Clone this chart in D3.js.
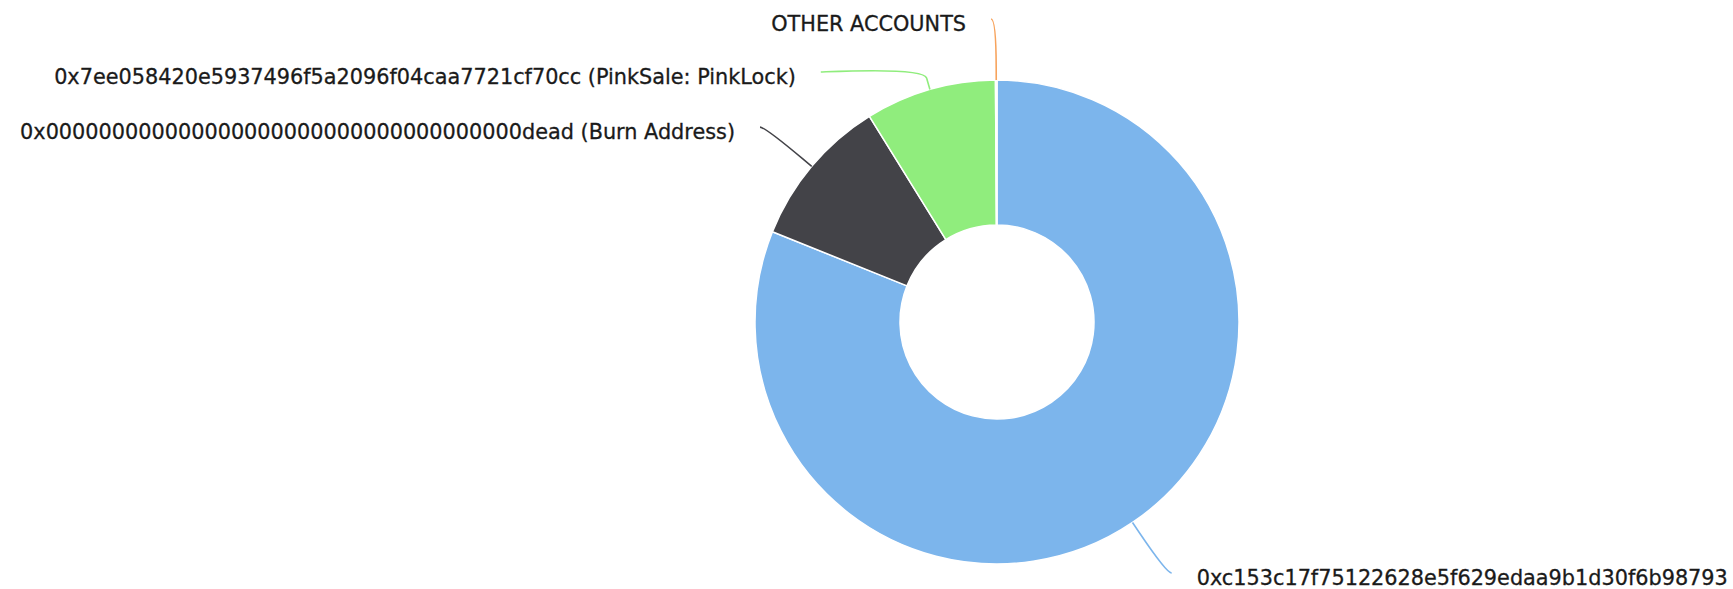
<!DOCTYPE html>
<html>
<head>
<meta charset="utf-8">
<script src="https://cdn.jsdelivr.net/npm/d3@7"></script>
<style>
  html, body { margin: 0; padding: 0; background: #ffffff; overflow: hidden; }
  svg { display: block; }
</style>
</head>
<body>
<svg id="chart" width="1733" height="589"></svg>
<script>
// ---- data ----
const holders = [
  "0xc153c17f75122628e5f629edaa9b1d30f6b98793",
  "0x000000000000000000000000000000000000dead (Burn Address)",
  "0x7ee058420e5937496f5a2096f04caa7721cf70cc (PinkSale: PinkLock)",
  "OTHER ACCOUNTS"
];
const shares = [81.08, 10.08, 8.74, 0.10];
const sliceColors = ["#7cb5ec", "#434348", "#90ed7d", "#f7a35c"];

// ---- layout ----
const W = 1733, H = 589;
const cx = 997, cy = 322;
const outerR = 242, innerR = 97;
const labelDist = 61, connOff = 12, pad = 5, gap = 25, minSpacing = 53;

const data = holders.map((name, i) => ({ name, value: shares[i], color: sliceColors[i] }));

const svg = d3.select("#chart");
const g = svg.append("g").attr("transform", `translate(${cx},${cy})`);

const pie = d3.pie().sort(null).value(d => d.value);
const arcs = pie(data);
const arc = d3.arc().innerRadius(innerR).outerRadius(outerR);

g.selectAll("path.slice")
  .data(arcs)
  .join("path")
  .attr("class", "slice")
  .attr("d", arc)
  .attr("fill", d => d.data.color)
  .attr("stroke", "#ffffff")
  .attr("stroke-width", 1.5)
  .attr("stroke-linejoin", "round");

// label placement (Highcharts-like)
const R = outerR + labelDist;
arcs.forEach(a => {
  a.mid = (a.startAngle + a.endAngle) / 2;
  a.left = Math.sin(a.mid) < 0;
  a.ny = -Math.cos(a.mid) * R;
});
[true, false].forEach(side => {
  const list = arcs.filter(a => a.left === side).sort((p, q) => p.ny - q.ny);
  let prev = -Infinity;
  list.forEach(a => { a.ly = Math.max(a.ny, prev + minSpacing); prev = a.ly; });
});
arcs.forEach(a => {
  const ang = Math.asin(Math.max(-1, Math.min(1, a.ly / R)));
  a.lx = (a.left ? -1 : 1) * (Math.cos(ang) * R + pad);
  a.touch = [Math.sin(a.mid) * outerR, -Math.cos(a.mid) * outerR];
  a.brk = [Math.sin(a.mid) * (outerR + connOff), -Math.cos(a.mid) * (outerR + connOff)];
});

g.selectAll("path.connector")
  .data(arcs)
  .join("path")
  .attr("class", "connector")
  .attr("fill", "none")
  .attr("stroke", d => d.data.color)
  .attr("stroke-width", 1.6)
  .attr("d", d => {
    const c1x = d.lx + (d.left ? 5 : -5), c1y = d.ly;
    const c2x = 2 * d.brk[0] - d.touch[0], c2y = 2 * d.brk[1] - d.touch[1];
    return `M${d.lx},${d.ly}C${c1x},${c1y} ${c2x},${c2y} ${d.brk[0]},${d.brk[1]}L${d.touch[0]},${d.touch[1]}`;
  });

g.selectAll("text.label")
  .data(arcs)
  .join("text")
  .attr("class", "label")
  .attr("x", d => d.left ? d.lx - gap : d.lx + gap)
  .attr("y", d => d.ly + 12)
  .attr("text-anchor", d => d.left ? "end" : "start")
  .attr("font-family", "'DejaVu Sans', Verdana, sans-serif")
  .attr("font-size", "20.8px")
  .attr("fill", "#1a1a1a")
  .attr("stroke", "#1a1a1a")
  .attr("stroke-width", 0.3)
  .text(d => d.data.name);
</script>
</body>
</html>
